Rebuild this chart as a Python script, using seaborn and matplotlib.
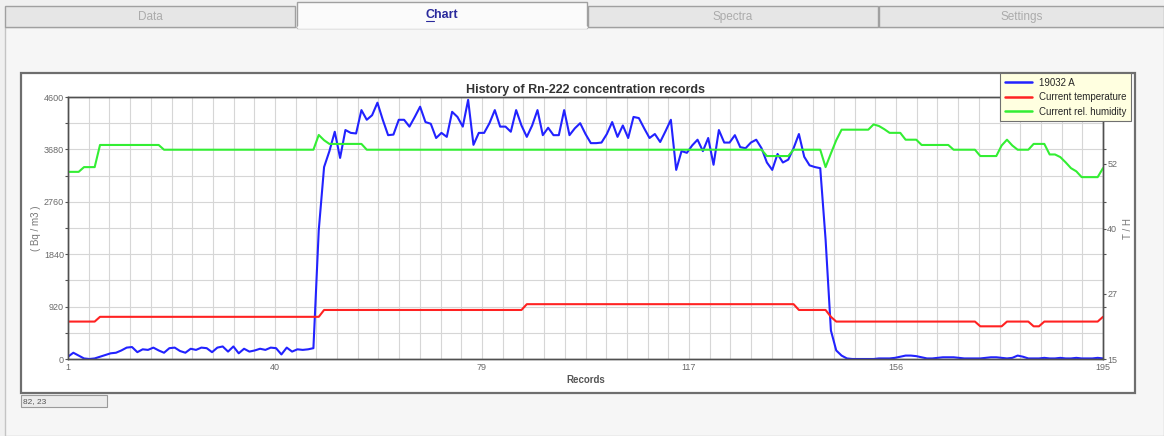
import matplotlib
matplotlib.use("Agg")
import matplotlib.pyplot as plt
from matplotlib.patches import Rectangle
from matplotlib.lines import Line2D
import numpy as np
import seaborn as sns

# ---- data -------------------------------------------------------------
records = list(range(1, 196))

radon = [
    40, 110, 60, 10, 0, 10, 40, 70, 100, 110,
    150, 200, 210, 120, 170, 160, 200, 150, 110, 190,
    200, 140, 110, 180, 160, 200, 190, 120, 200, 220,
    130, 220, 100, 180, 130, 150, 180, 160, 200, 190,
    80, 200, 130, 170, 160, 170, 190,
    2260, 3370, 3650,
    3990, 3530, 4020, 3970, 3960, 4370, 4200, 4280, 4500, 4200,
    3930, 3940, 4200, 4200, 4080, 4250, 4430, 4160, 4130, 3880,
    3970, 3900, 4340, 4250, 4080, 4550, 3760, 3970, 3970, 4140,
    4370, 4080, 4080, 3990, 4370, 4100, 3900, 4100, 4370, 3930,
    4060, 3930, 3930, 4370, 3930, 4050, 4140, 3950, 3790, 3790,
    3800, 3950, 4160, 3900, 4100, 3880, 4250, 4230, 4050, 3880,
    3950, 3810, 4000, 4200, 3320, 3650, 3620, 3750, 3850, 3650,
    3880, 3410, 4020, 3800, 3800, 3930, 3720, 3700, 3800, 3850,
    3700, 3450, 3320, 3600, 3450, 3500, 3700, 3950, 3550, 3400,
    3370, 3350, 2100, 500, 150, 60, 10,
    0, 0, 0, 0, 0, 10, 10, 10, 20, 40, 60, 60, 50,
    30, 10, 10, 20, 30, 30, 30, 20, 10, 10,
    10, 10, 20, 30, 30, 20, 10, 20, 60, 40,
    10, 10, 10, 20, 10, 10, 20, 10, 10, 20,
    10, 10, 10, 20, 10,
]

temperature = [
    22.1, 22.1, 22.1, 22.1, 22.1, 22.1, 23.0, 23.0, 23.0, 23.0,
    23.0, 23.0, 23.0, 23.0, 23.0, 23.0, 23.0, 23.0, 23.0, 23.0,
    23.0, 23.0, 23.0, 23.0, 23.0, 23.0, 23.0, 23.0, 23.0, 23.0,
    23.0, 23.0, 23.0, 23.0, 23.0, 23.0, 23.0, 23.0, 23.0, 23.0,
    23.0, 23.0, 23.0, 23.0, 23.0, 23.0, 23.0, 23.0, 24.3, 24.3,
    24.3, 24.3, 24.3, 24.3, 24.3, 24.3, 24.3, 24.3, 24.3, 24.3,
    24.3, 24.3, 24.3, 24.3, 24.3, 24.3, 24.3, 24.3, 24.3, 24.3,
    24.3, 24.3, 24.3, 24.3, 24.3, 24.3, 24.3, 24.3, 24.3, 24.3,
    24.3, 24.3, 24.3, 24.3, 24.3, 24.3, 25.4, 25.4, 25.4, 25.4,
    25.4, 25.4, 25.4, 25.4, 25.4, 25.4, 25.4, 25.4, 25.4, 25.4,
    25.4, 25.4, 25.4, 25.4, 25.4, 25.4, 25.4, 25.4, 25.4, 25.4,
    25.4, 25.4, 25.4, 25.4, 25.4, 25.4, 25.4, 25.4, 25.4, 25.4,
    25.4, 25.4, 25.4, 25.4, 25.4, 25.4, 25.4, 25.4, 25.4, 25.4,
    25.4, 25.4, 25.4, 25.4, 25.4, 25.4, 25.4, 24.3, 24.3, 24.3,
    24.3, 24.3, 24.3, 23.0, 22.1, 22.1, 22.1, 22.1, 22.1, 22.1,
    22.1, 22.1, 22.1, 22.1, 22.1, 22.1, 22.1, 22.1, 22.1, 22.1,
    22.1, 22.1, 22.1, 22.1, 22.1, 22.1, 22.1, 22.1, 22.1, 22.1,
    22.1, 21.2, 21.2, 21.2, 21.2, 21.2, 22.1, 22.1, 22.1, 22.1,
    22.1, 21.2, 21.2, 22.1, 22.1, 22.1, 22.1, 22.1, 22.1, 22.1,
    22.1, 22.1, 22.1, 22.1, 23.0,
]

humidity = [
    50.5, 50.5, 50.5, 51.4, 51.4, 51.4, 55.6, 55.6, 55.6, 55.6,
    55.6, 55.6, 55.6, 55.6, 55.6, 55.6, 55.6, 55.6, 54.7, 54.7,
    54.7, 54.7, 54.7, 54.7, 54.7, 54.7, 54.7, 54.7, 54.7, 54.7,
    54.7, 54.7, 54.7, 54.7, 54.7, 54.7, 54.7, 54.7, 54.7, 54.7,
    54.7, 54.7, 54.7, 54.7, 54.7, 54.7, 54.7, 57.5, 56.5, 55.8,
    55.8, 55.8, 55.8, 55.8, 55.8, 55.8, 54.7, 54.7, 54.7, 54.7,
    54.7, 54.7, 54.7, 54.7, 54.7, 54.7, 54.7, 54.7, 54.7, 54.7,
    54.7, 54.7, 54.7, 54.7, 54.7, 54.7, 54.7, 54.7, 54.7, 54.7,
    54.7, 54.7, 54.7, 54.7, 54.7, 54.7, 54.7, 54.7, 54.7, 54.7,
    54.7, 54.7, 54.7, 54.7, 54.7, 54.7, 54.7, 54.7, 54.7, 54.7,
    54.7, 54.7, 54.7, 54.7, 54.7, 54.7, 54.7, 54.7, 54.7, 54.7,
    54.7, 54.7, 54.7, 54.7, 54.7, 54.7, 54.7, 54.7, 54.7, 54.7,
    54.7, 54.7, 54.7, 54.7, 54.7, 54.7, 54.7, 54.7, 54.7, 54.7,
    54.7, 53.5, 53.5, 53.5, 53.5, 53.5, 54.7, 54.7, 54.7, 54.7,
    54.7, 54.7, 51.4, 54.0, 56.5, 58.5, 58.5, 58.5, 58.5, 58.5,
    58.5, 59.5, 59.2, 58.6, 57.9, 57.9, 57.9, 56.6, 56.6, 56.6,
    55.6, 55.6, 55.6, 55.6, 55.6, 55.6, 54.7, 54.7, 54.7, 54.7,
    54.7, 53.5, 53.5, 53.5, 53.5, 55.5, 56.6, 55.5, 54.7, 54.7,
    54.7, 55.8, 55.8, 55.8, 53.8, 53.8, 53.3, 52.3, 51.2, 50.6,
    49.5, 49.5, 49.5, 49.5, 51.2,
]

x_tick_labels = ["1", "40", "79", "117", "156", "195"]
left_tick_labels = ["0", "920", "1840", "2760", "3680", "4600"]
right_tick_labels = ["15", "27", "40", "52"]
series_names = ["19032 A", "Current temperature", "Current rel. humidity"]
tab_names = ["Data", "Chart", "Spectra", "Settings"]

# ---- figure ------------------------------------------------------------
sns.set_style("white")
plt.rcParams['font.family'] = ['Liberation Sans', 'DejaVu Sans']

W, H = 1164, 436
fig = plt.figure(figsize=(W / 100, H / 100), dpi=100)
fig.patch.set_facecolor('#f0f0f0')

# window chrome drawn in pixel coordinates
bg = fig.add_axes([0, 0, 1, 1])
bg.set_xlim(0, W)
bg.set_ylim(H, 0)
bg.axis('off')

bg.add_patch(Rectangle((5, 27), W - 5, H - 27, facecolor='#f6f6f6', edgecolor='#c4c4c4', lw=1))
tab_x = [5, 297, 588, 879]
tab_w = [290, 290, 290, 285]
for name, x0, w in zip(tab_names, tab_x, tab_w):
    if name == "Chart":
        bg.add_patch(Rectangle((x0, 2), w, 26, facecolor='#fbfbfb', edgecolor='#a0a0a0', lw=1, zorder=3))
        bg.plot([x0 + 1, x0 + w - 1], [27.5, 27.5], color='#fbfbfb', lw=2, zorder=4)
        bg.text(x0 + w / 2, 15, name, ha='center', va='center', fontsize=9,
                fontweight='bold', color='#2a2a9c', zorder=5)
        bg.plot([x0 + w / 2 - 16, x0 + w / 2 - 8], [21.5, 21.5], color='#2a2a9c', lw=0.8, zorder=5)
    else:
        bg.add_patch(Rectangle((x0, 6), w, 21, facecolor='#e6e6e6', edgecolor='#a0a0a0', lw=1, zorder=2))
        bg.text(x0 + w / 2, 17, name, ha='center', va='center', fontsize=8.5, color='#ababab', zorder=5)

bg.add_patch(Rectangle((21, 73), 1114, 320, facecolor='white', edgecolor='#6e6e6e', lw=1.6))
bg.add_patch(Rectangle((21, 395), 86, 12, facecolor='#ececec', edgecolor='#9a9a9a', lw=0.8))
bg.text(23, 401.5, "82, 23", ha='left', va='center', fontsize=6, color='#555555')

# plot area
left, top, right, bottom = 68, 97, 1103, 359
ax = fig.add_axes([left / W, (H - bottom) / H, (right - left) / W, (bottom - top) / H])
ax2 = ax.twinx()

blue, red, green = '#2222ff', '#ff2222', '#33ee33'
sns.lineplot(x=records, y=radon, ax=ax, color=blue, lw=1.5)
sns.lineplot(x=records, y=temperature, ax=ax2, color=red, lw=1.5)
sns.lineplot(x=records, y=humidity, ax=ax2, color=green, lw=1.5)

ax.set_xlim(1, 195)
ax.set_ylim(0, 4600)
ax2.set_ylim(15, 64.7)

ax.set_xticks(np.linspace(1, 195, len(x_tick_labels)))
ax.set_xticklabels(x_tick_labels)
ax.set_xticks(np.linspace(1, 195, 51), minor=True)
ax.set_yticks(np.linspace(0, 4600, len(left_tick_labels)))
ax.set_yticklabels(left_tick_labels)
ax.set_yticks(np.linspace(0, 4600, 11), minor=True)

ax2.set_yticks(np.linspace(15, 52, len(right_tick_labels)))
ax2.set_yticklabels(right_tick_labels)
ax2.set_yticks(15 + np.linspace(0, 4600, 6)[1:-1] / 4600 * (64.7 - 15), minor=True)

ax.grid(which='both', color='#d6d6d6', lw=0.8)
ax2.grid(False)
ax.set_axisbelow(True)

for a in (ax, ax2):
    a.tick_params(which='both', direction='out', length=2.5, width=0.8, color='#555555',
                  labelsize=6.5, labelcolor='#6a6a6a', pad=0.5)
    for s in a.spines.values():
        s.set_color('#505050')
        s.set_linewidth(1)

ax.set_title("History of Rn-222 concentration records", fontsize=9, fontweight='bold',
             color='#333333', pad=3)
ax.set_xlabel("Records", fontsize=7, fontweight='bold', color='#555555', labelpad=2)
ax.set_ylabel("( Bq / m3 )", fontsize=7, color='#777777', labelpad=2)
ax2.set_ylabel("T / H", fontsize=7, color='#777777', rotation=90, labelpad=4)

handles = [Line2D([], [], color=c, lw=1.8) for c in (blue, red, green)]
leg = fig.legend(handles, series_names, loc='upper left', bbox_to_anchor=(1000 / W, 1 - 73 / H),
                 fontsize=7, frameon=True, fancybox=False, framealpha=1, borderpad=0.5,
                 labelspacing=0.45, handlelength=2.8, handletextpad=0.7, borderaxespad=0)
leg.get_frame().set_facecolor('#ffffe0')
leg.get_frame().set_edgecolor('#707070')
leg.get_frame().set_linewidth(0.8)

fig.savefig("out.png", dpi=100, facecolor=fig.get_facecolor())
